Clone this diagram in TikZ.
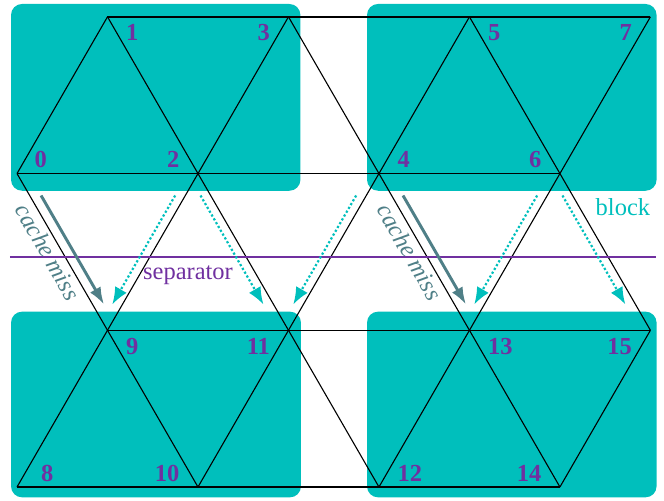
\documentclass[tikz,border=0pt]{standalone}
\usepackage{fontspec}
\setmainfont{Liberation Serif}
\usepackage{xcolor}
\definecolor{BlockTeal}{HTML}{00BFBC}
\definecolor{LabelPurple}{HTML}{7030A0}
\definecolor{MissSlate}{HTML}{4F7F87}
\usepackage{tikz}
\usetikzlibrary{arrows.meta,calc}
\tikzset{
  >=Latex,
  block/.style={fill=BlockTeal, rounded corners=4.5pt},
  meshline/.style={draw=black, line width=0.45pt},
  rowline/.style={draw=black, line width=0.6pt},
  numlabel/.style={inner sep=0pt, font=\bfseries, text=LabelPurple},
  sep-line/.style={draw=LabelPurple, line width=0.8pt},
  miss-text/.style={font=\itshape, text=MissSlate, rotate=-60},
  miss-arrow/.style={-{Latex[length=7pt,width=5pt]}, line width=1.2pt, draw=MissSlate},
  fetch-arrow/.style={-{Latex[length=7pt,width=5.5pt]}, line width=0.9pt, draw=BlockTeal, dash pattern=on 0.9pt off 0.9pt}
}

\begin{document}
\begin{tikzpicture}[x=2.6cm, y=2.6cm]
  \useasboundingbox (-0.094,-0.072) rectangle (3.575,2.691);

  % lattice points
  \foreach \i/\x/\y in {8/0/0, 10/1/0, 12/2/0, 14/3/0,
                        9/0.5/1, 11/1.5/1, 13/2.5/1, 15/3.5/1,
                        0/0/2, 2/1/2, 4/2/2, 6/3/2,
                        1/0.5/3, 3/1.5/3, 5/2.5/3, 7/3.5/3}
    \coordinate (v\i) at (\x, 0.866*\y);

  % blocks
  \fill[block] (-0.033,1.637) rectangle (1.566,2.669);
  \fill[block] (1.934,1.637) rectangle (3.534,2.669);
  \fill[block] (-0.033,-0.057) rectangle (1.569,0.969);
  \fill[block] (1.934,-0.057) rectangle (3.534,0.969);

  % mesh
  \draw[rowline] (v1) -- (v7) (v0) -- (v6) (v9) -- (v15) (v8) -- (v14);
  \draw[meshline] (v0) -- (v1) (v8) -- (v3) (v10) -- (v5) (v12) -- (v7) (v14) -- (v15);
  \draw[meshline] (v0) -- (v10) (v1) -- (v12) (v3) -- (v14) (v5) -- (v15);

  % separator
  \coordinate (sepL) at (-0.039,1.269);
  \coordinate (sepR) at (3.530,1.269);
  \draw[sep-line] (sepL) -- (sepR);
  \node[text=LabelPurple] (seplabel) at (0.945,1.168) {separator};
  \node[text=BlockTeal] (blocklabel) at (3.348,1.549) {block};

  % cache misses
  \draw[miss-arrow] ($(v0)!0.14!(v9)+(0.063,0)$) -- ($(v0)!0.835!(v9)+(0.063,0)$);
  \draw[miss-arrow] ($(v4)!0.14!(v13)+(0.063,0)$) -- ($(v4)!0.835!(v13)+(0.063,0)$);
  \node[miss-text] (miss1) at ($(v0)!0.5!(v9)+(-0.079,0)$) {cache miss};
  \node[miss-text] (miss2) at ($(v4)!0.5!(v13)+(-0.079,0)$) {cache miss};

  % fetches
  \foreach \a/\b in {2/9, 2/11, 4/11, 6/13, 6/15}
    \draw[fetch-arrow] ($(v\a)!0.14!(v\b)+(-0.056,0)$) -- ($(v\a)!0.835!(v\b)+(-0.056,0)$);

  % numbers
  \foreach \v/\dx/\dy/\anc in {0/0.094/0.077/west, 2/-0.1/0.077/east, 4/0.1/0.077/west, 6/-0.1/0.077/east,
                               1/0.1/-0.088/west, 3/-0.1/-0.088/east, 5/0.1/-0.088/west, 7/-0.1/-0.088/east,
                               8/0.13/0.077/west, 10/-0.1/0.077/east, 12/0.1/0.077/west, 14/-0.1/0.077/east,
                               9/0.1/-0.088/west, 11/-0.1/-0.088/east, 13/0.1/-0.088/west, 15/-0.1/-0.088/east}
    \node[numlabel, anchor=\anc] (n\v) at ($(v\v)+(\dx,\dy)$) {\v};
\end{tikzpicture}
\end{document}
